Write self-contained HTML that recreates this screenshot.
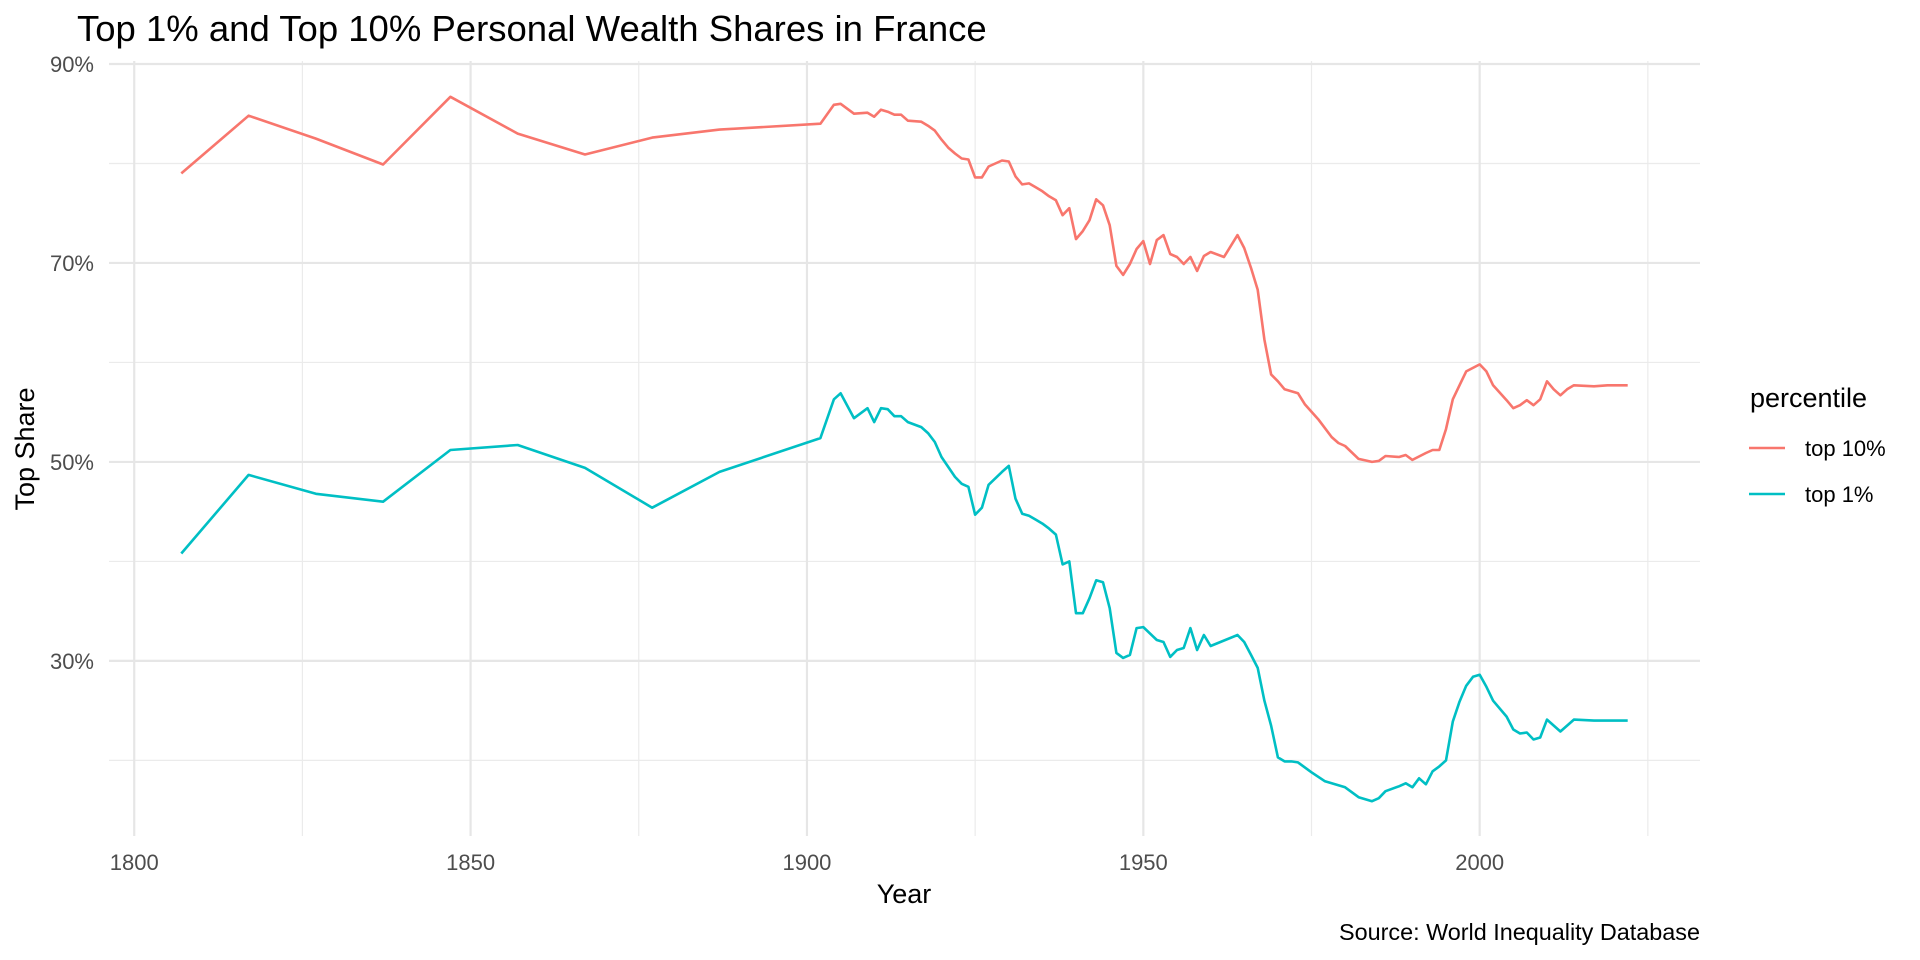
<!DOCTYPE html>
<html><head><meta charset="utf-8"><style>
html,body{margin:0;padding:0;background:#fff;}
svg{display:block;font-family:"Liberation Sans",Arial,sans-serif;}
</style></head><body>
<svg id="chart" width="1920" height="960" viewBox="0 0 1920 960">
<text x="77" y="41" font-size="36.5" fill="#000">Top 1% and Top 10% Personal Wealth Shares in France</text>
<g id="grid"></g>
<g id="series"></g>
<g id="axes"></g>
<text x="904" y="903" font-size="27" text-anchor="middle" fill="#000">Year</text>
<text transform="translate(34,449) rotate(-90)" font-size="27" text-anchor="middle" fill="#000">Top Share</text>
<g>
<text x="1750" y="407" font-size="27" fill="#000">percentile</text>
<g>
<line x1="1749" y1="448" x2="1785" y2="448" stroke="#F8766D" stroke-width="2.6"/>
<text x="1805" y="456" font-size="22" fill="#000">top 10%</text>
</g>
<g>
<line x1="1749" y1="494" x2="1785" y2="494" stroke="#00BFC4" stroke-width="2.6"/>
<text x="1805" y="502" font-size="22" fill="#000">top 1%</text>
</g>
</g>
<text x="1700" y="940" font-size="23.4" text-anchor="end" fill="#000">Source: World Inequality Database</text>
</svg>
<script>
const top10Years = [1807,1817,1827,1837,1847,1857,1867,1877,1887,1902,1904,1905,1907,1909,1910,1911,1912,1913,1914,1915,1917,1918,1919,1920,1921,1922,1923,1924,1925,1926,1927,1929,1930,1931,1932,1933,1934,1935,1936,1937,1938,1939,1940,1941,1942,1943,1944,1945,1946,1947,1948,1949,1950,1951,1952,1953,1954,1955,1956,1957,1958,1959,1960,1962,1964,1965,1966,1967,1968,1969,1970,1971,1972,1973,1974,1976,1978,1979,1980,1982,1984,1985,1986,1988,1989,1990,1992,1993,1994,1995,1996,1997,1998,2000,2001,2002,2004,2005,2006,2007,2008,2009,2010,2011,2012,2013,2014,2017,2019,2022];
const top10Values = [79.0,84.8,82.5,79.9,86.7,83.0,80.9,82.6,83.4,84.0,85.9,86.0,85.0,85.1,84.7,85.4,85.2,84.9,84.9,84.3,84.2,83.8,83.3,82.4,81.6,81.0,80.5,80.4,78.6,78.6,79.7,80.3,80.2,78.7,77.9,78.0,77.6,77.2,76.7,76.3,74.8,75.5,72.4,73.2,74.3,76.4,75.8,73.8,69.7,68.8,69.9,71.4,72.2,69.9,72.3,72.8,70.9,70.6,69.9,70.6,69.2,70.7,71.1,70.6,72.8,71.5,69.5,67.3,62.3,58.8,58.1,57.3,57.1,56.9,55.8,54.3,52.5,51.9,51.6,50.3,50.0,50.1,50.6,50.5,50.7,50.2,50.9,51.2,51.2,53.3,56.3,57.7,59.1,59.8,59.1,57.7,56.2,55.4,55.7,56.2,55.7,56.3,58.1,57.3,56.7,57.3,57.7,57.6,57.7,57.7];
const top1Years = [1807,1817,1827,1837,1847,1857,1867,1877,1887,1902,1904,1905,1907,1909,1910,1911,1912,1913,1914,1915,1917,1918,1919,1920,1921,1922,1923,1924,1925,1926,1927,1929,1930,1931,1932,1933,1934,1935,1936,1937,1938,1939,1940,1941,1942,1943,1944,1945,1946,1947,1948,1949,1950,1952,1953,1954,1955,1956,1957,1958,1959,1960,1964,1965,1966,1967,1968,1969,1970,1971,1972,1973,1975,1977,1978,1980,1982,1984,1985,1986,1988,1989,1990,1991,1992,1993,1994,1995,1996,1997,1998,1999,2000,2001,2002,2004,2005,2006,2007,2008,2009,2010,2012,2013,2014,2017,2019,2022];
const top1Values = [40.8,48.7,46.8,46.0,51.2,51.7,49.4,45.4,49.0,52.4,56.3,56.9,54.4,55.4,54.0,55.4,55.3,54.6,54.6,54.0,53.5,52.9,52.0,50.5,49.5,48.5,47.8,47.5,44.7,45.4,47.7,49.0,49.6,46.3,44.8,44.6,44.2,43.8,43.3,42.7,39.7,40.0,34.8,34.8,36.3,38.1,37.9,35.3,30.8,30.3,30.6,33.3,33.4,32.1,31.9,30.4,31.1,31.3,33.3,31.1,32.6,31.5,32.6,31.9,30.6,29.3,26.0,23.5,20.3,19.9,19.9,19.8,18.8,17.9,17.7,17.3,16.3,15.9,16.2,16.9,17.4,17.7,17.3,18.2,17.6,18.9,19.4,20.0,23.9,25.9,27.5,28.4,28.6,27.4,26.0,24.4,23.1,22.7,22.8,22.1,22.3,24.1,22.9,23.5,24.1,24.0,24.0,24.0];
const xMajorTicks = [1800,1850,1900,1950,2000];
const xMinorTicks = [1825,1875,1925,1975,2025];
const yMajorTicks = [30,50,70,90];
const yMinorTicks = [20,40,60,80];

const NS = "http://www.w3.org/2000/svg";
const panel = {left:109, right:1700, top:61, bottom:836};
const xDomain = [1796.25, 2032.75];
const yDomain = [12.4, 90.3];
function xs(v){ return panel.left + (v - xDomain[0]) / (xDomain[1] - xDomain[0]) * (panel.right - panel.left); }
function ys(v){ return panel.bottom - (v - yDomain[0]) / (yDomain[1] - yDomain[0]) * (panel.bottom - panel.top); }
function mk(tag, attrs){ const e = document.createElementNS(NS, tag); for (const k in attrs) e.setAttribute(k, attrs[k]); return e; }

const grid = document.getElementById('grid');
const axes = document.getElementById('axes');
yMinorTicks.forEach(v => {
  const l = mk('line', {x1:panel.left, x2:panel.right, y1:ys(v), y2:ys(v), stroke:'#ebebeb', 'stroke-width':1.2});
  
  
  grid.appendChild(l);
});
xMinorTicks.forEach(v => {
  const l = mk('line', {x1:xs(v), x2:xs(v), y1:panel.top, y2:panel.bottom, stroke:'#ebebeb', 'stroke-width':1.2});
  
  
  grid.appendChild(l);
});
yMajorTicks.forEach(v => {
  const l = mk('line', {x1:panel.left, x2:panel.right, y1:ys(v), y2:ys(v), stroke:'#e6e6e6', 'stroke-width':2.2});
  
  
  grid.appendChild(l);
  const t = mk('text', {x:94, y:ys(v)+8, 'font-size':22, 'text-anchor':'end', fill:'#4d4d4d'});
  t.textContent = v + '%';
  
  
  axes.appendChild(t);
});
xMajorTicks.forEach(v => {
  const l = mk('line', {x1:xs(v), x2:xs(v), y1:panel.top, y2:panel.bottom, stroke:'#e6e6e6', 'stroke-width':2.2});
  
  
  grid.appendChild(l);
  const t = mk('text', {x:xs(v), y:870, 'font-size':22, 'text-anchor':'middle', fill:'#4d4d4d'});
  t.textContent = v;
  
  
  axes.appendChild(t);
});

const series = document.getElementById('series');
function drawLine(years, vals, color, name){
  const pts = years.map((y,i) => xs(y).toFixed(1) + ',' + ys(vals[i]).toFixed(1)).join(' ');
  const p = mk('polyline', {points:pts, fill:'none', stroke:color, 'stroke-width':2.6, 'stroke-linejoin':'round'});
  
  
  series.appendChild(p);
}
drawLine(top10Years, top10Values, '#F8766D', 'line-top10');
drawLine(top1Years, top1Values, '#00BFC4', 'line-top1');
</script>
</body></html>
